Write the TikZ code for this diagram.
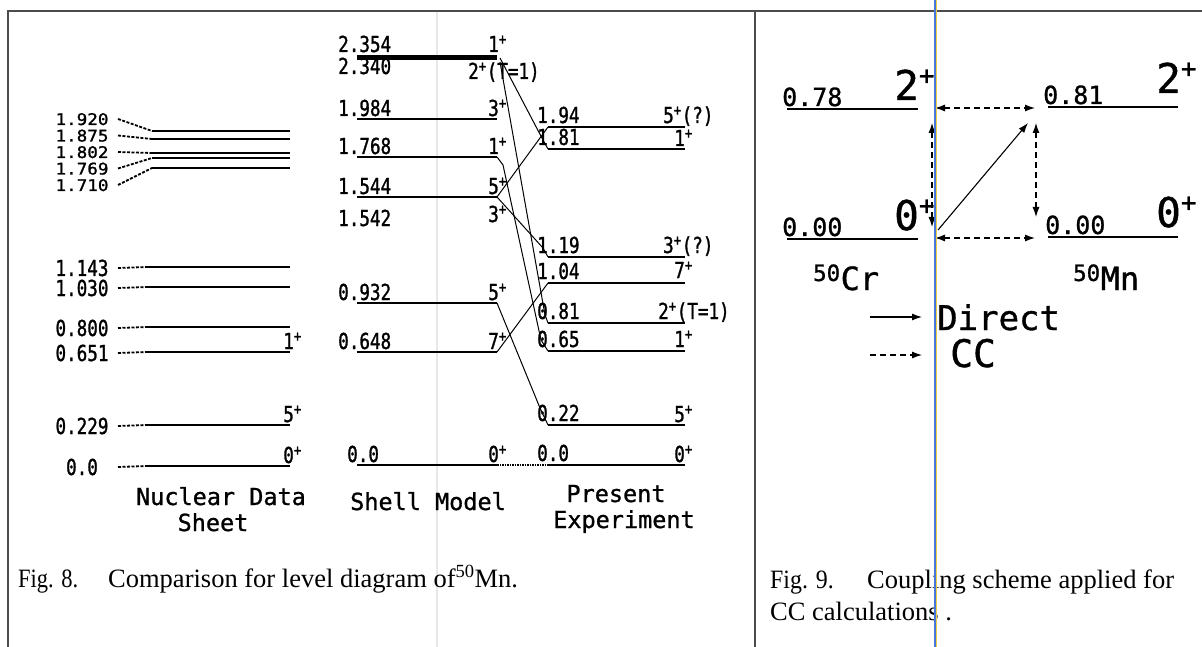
\documentclass[tikz,border=0pt]{standalone}
\usepackage{fontspec}
\setmainfont{Liberation Serif}
\newfontfamily\monof[FakeBold=1]{DejaVu Sans Mono}
\newfontfamily\monoc[FakeStretch=0.8,FakeBold=1.2]{DejaVu Sans Mono}
\newfontfamily\monow[FakeStretch=1.1,FakeBold=1.2]{DejaVu Sans Mono}
\usetikzlibrary{arrows.meta}
\newcommand\supr[1]{\textsuperscript{#1}}
\newcommand\bigplus{\raisebox{0.38em}{\fontsize{26}{26}\selectfont+}}
\definecolor{scanblue}{RGB}{70,120,215}
\definecolor{scanyellow}{RGB}{240,205,70}
\begin{document}
\begin{tikzpicture}[x=1pt,y=-1pt,
  framestyle/.style={black!70,line width=1.2pt},
  lvl/.style={line width=2.2pt},
  thicklvl/.style={line width=5pt},
  conn/.style={line width=1pt},
  ndsdash/.style={line width=1.8pt,dash pattern=on 3pt off 1.5pt},
  lbl/.style={font=\monoc\fontsize{22}{24}\selectfont,inner sep=0pt},
  lbls/.style={font=\monow\fontsize{16}{16}\selectfont,inner sep=0pt},
  hdr/.style={font=\monof\fontsize{23.5}{26}\selectfont,inner sep=0pt},
  rnum/.style={font=\monof\fontsize{25}{28}\selectfont,inner sep=0pt},
  rspin/.style={font=\monof\fontsize{41}{44}\selectfont,inner sep=0pt},
  nuc/.style={font=\monof\fontsize{32}{36}\selectfont,inner sep=0pt},
  captxt/.style={font=\fontsize{26.5}{30}\selectfont,inner sep=0pt},
  rlvl/.style={line width=1.8pt},
  arrtip/.style={-{Latex[length=10pt,width=7pt]}},
  darrtip/.style={{Latex[length=10pt,width=7pt]}-{Latex[length=10pt,width=7pt]}},
  ccdash/.style={line width=1.1pt,dash pattern=on 6pt off 4pt}]
\useasboundingbox (0,0) rectangle (1202,647);
\fill[white] (0,0) rectangle (1202,647);
% faint scan seam
\draw[black!9,line width=1.5pt] (437,11) -- (437,647);
% frames
\coordinate (fBL) at (8,647); \coordinate (fTL) at (8,11); \coordinate (fTR) at (1202,11);
\coordinate (dT) at (755,11); \coordinate (dB) at (755,647);
\draw[framestyle] (fBL) -- (fTL) -- (fTR);
\draw[framestyle] (dT) -- (dB);

% ---------------- Nuclear Data Sheet ----------------
\foreach \t/\ly/\y [count=\i] in {1.920/119/131, 1.875/135.5/139, 1.802/152/153, 1.769/168.5/158, 1.710/185/168}{
  \node[lbls,anchor=base] (nT\i) at (82,\ly+6) {\t};
  \coordinate (nTA\i) at (118,\ly);
  \coordinate (nTB\i) at (152,\y);
  \coordinate (nTC\i) at (290,\y);
  \draw[ndsdash] (nTA\i) -- (nTB\i);
  \draw[lvl] (nTB\i) -- (nTC\i);
}
\foreach \t/\ly/\y [count=\i] in {1.143/268/267, 1.030/288/287, 0.800/328/327, 0.651/353/352, 0.229/426/425, 0.0/467/466}{
  \node[lbl,anchor=base] (nL\i) at (82,\ly+8) {\t};
  \coordinate (nA\i) at (118,\ly);
  \coordinate (nB\i) at (147,\y);
  \coordinate (nC\i) at (290,\y);
  \draw[ndsdash] (nA\i) -- (nB\i);
  \draw[lvl] (nB\i) -- (nC\i);
}
\node[lbl,anchor=base east] (nS1) at (302,349) {1\supr{+}};
\node[lbl,anchor=base east] (nS2) at (302,422) {5\supr{+}};
\node[lbl,anchor=base east] (nS3) at (302,463) {0\supr{+}};

% ---------------- Shell Model ----------------
\coordinate (sTa) at (357,57.5); \coordinate (sTb) at (497,57.5);
\draw[thicklvl] (sTa) -- (sTb);
\node[lbl,anchor=base west] (sL1) at (338,52) {2.354};
\node[lbl,anchor=base west] (sL2) at (338,74) {2.340};
\node[lbl,anchor=base east] (sS1) at (507,52) {1\supr{+}};
\node[lbl,anchor=base west] (sS2) at (468,79) {2\supr{+}(T=1)};
\foreach \t/\y/\s [count=\i] in {1.984/119/3, 1.768/157/1, 1.544/197/5, 0.932/303/5, 0.648/352/7}{
  \coordinate (sa\i) at (357,\y);
  \coordinate (sb\i) at (497,\y);
  \draw[lvl] (sa\i) -- (sb\i);
  \node[lbl,anchor=base west] (sl\i) at (338,\y-3) {\t};
  \node[lbl,anchor=base east] (ss\i) at (507,\y-3) {\s\supr{+}};
}
\node[lbl,anchor=base west] (sL3) at (338,226) {1.542};
\node[lbl,anchor=base east] (sS3) at (507,222) {3\supr{+}};
\coordinate (s0a) at (357,465); \coordinate (s0b) at (497,465);
\draw[lvl] (s0a) -- (s0b);
\node[lbl,anchor=base west] (sL0) at (347,462) {0.0};
\node[lbl,anchor=base east] (sS0) at (507,462) {0\supr{+}};

% ---------------- Present Experiment ----------------
\foreach \t/\y [count=\i] in {1.94/127, 1.81/149, 1.19/257, 1.04/283, 0.81/323, 0.65/351, 0.22/425, 0.0/465}{
  \coordinate (pa\i) at (548,\y);
  \coordinate (pb\i) at (685,\y);
  \draw[lvl] (pa\i) -- (pb\i);
  \node[lbl,anchor=base west] (pl\i) at (537,\y-4) {\t};
}
\node[lbl,anchor=base west] (ps1) at (663,123) {5\supr{+}(?)};
\node[lbl,anchor=base east] (ps2) at (693,146) {1\supr{+}};
\node[lbl,anchor=base west] (ps3) at (663,253) {3\supr{+}(?)};
\node[lbl,anchor=base east] (ps4) at (693,278) {7\supr{+}};
\node[lbl,anchor=base west] (ps5) at (658,319) {2\supr{+}(T=1)};
\node[lbl,anchor=base east] (ps6) at (693,347) {1\supr{+}};
\node[lbl,anchor=base east] (ps7) at (693,422) {5\supr{+}};
\node[lbl,anchor=base east] (ps8) at (693,462) {0\supr{+}};

% connectors
\coordinate (k1) at (500,58); \coordinate (k1b) at (543,140);
\draw[conn] (k1) -- (k1b) -- (pa2);
\coordinate (k2) at (500,62); \coordinate (k2b) at (545,315);
\draw[conn] (k2) -- (k2b) -- (pa5);
\coordinate (k3) at (503,165); \coordinate (k3b) at (541,340);
\draw[conn] (sb2) -- (k3) -- (k3b) -- (pa6);
\draw[conn] (sb3) -- (pa1);
\coordinate (k5) at (543,248);
\draw[conn] (sb3) -- (k5) -- (pa3);
\coordinate (k6) at (540,408);
\draw[conn] (sb4) -- (k6) -- (pa7);
\draw[conn] (sb5) -- (pa4);
\draw[line width=1.2pt,dash pattern=on 1.5pt off 1pt] (s0b) -- (pa8);

% headers
\node[hdr,anchor=base] (h1) at (221,505) {Nuclear Data};
\node[hdr,anchor=base] (h2) at (213,531) {Sheet};
\node[hdr,anchor=base] (h3) at (428,510) {Shell Model};
\node[hdr,anchor=base] (h4) at (616,502) {Present};
\node[hdr,anchor=base] (h5) at (624,528) {Experiment};

% caption Fig 8
\node[captxt,anchor=base west] (c8a) at (18,587) {\scalebox{0.85}[1]{Fig. 8.}};
\node[captxt,anchor=base west] (c8b) at (108,587) {Comparison for level diagram of\textsuperscript{50}Mn.};

% ---------------- Fig. 9 ----------------
\coordinate (crTa) at (787,109); \coordinate (crTb) at (918,109);
\coordinate (crBa) at (787,239); \coordinate (crBb) at (918,239);
\coordinate (mnTa) at (1048,107); \coordinate (mnTb) at (1178,107);
\coordinate (mnBa) at (1048,237); \coordinate (mnBb) at (1178,237);
\draw[rlvl] (crTa) -- (crTb);
\draw[rlvl] (crBa) -- (crBb);
\draw[rlvl] (mnTa) -- (mnTb);
\draw[rlvl] (mnBa) -- (mnBb);
\node[rnum,anchor=base west] (r1) at (782,106) {0.78};
\node[rnum,anchor=base west] (r2) at (782,236) {0.00};
\node[rnum,anchor=base west] (r3) at (1043,104) {0.81};
\node[rnum,anchor=base west] (r4) at (1045,234) {0.00};
\node[rspin,anchor=base west] (r5) at (894,100) {2\bigplus};
\node[rspin,anchor=base west] (r6) at (894,230) {0\bigplus};
\node[rspin,anchor=base west] (r7) at (1156,93) {2\bigplus};
\node[rspin,anchor=base west] (r8) at (1156,227) {0\bigplus};
\node[nuc,anchor=base west] (r9) at (813,290) {\textsuperscript{50}Cr};
\node[nuc,anchor=base west] (r10) at (1073,290) {\textsuperscript{50}Mn};

\coordinate (aT1) at (935,108); \coordinate (aT2) at (1035,108);
\coordinate (aB1) at (935,238); \coordinate (aB2) at (1035,238);
\coordinate (aL1) at (932,123); \coordinate (aL2) at (932,227);
\coordinate (aR1) at (1036,123); \coordinate (aR2) at (1036,217);
\coordinate (aD1) at (938,230); \coordinate (aD2) at (1028,123);
\draw[ccdash,darrtip] (aT1) -- (aT2);
\draw[ccdash,darrtip] (aB1) -- (aB2);
\draw[ccdash,darrtip] (aL1) -- (aL2);
\draw[ccdash,darrtip] (aR1) -- (aR2);
\draw[line width=1.1pt,arrtip] (aD1) -- (aD2);

% legend
\coordinate (lg1) at (870,317); \coordinate (lg2) at (922,317);
\coordinate (lg3) at (870,355); \coordinate (lg4) at (922,355);
\draw[line width=1.1pt,arrtip] (lg1) -- (lg2);
\draw[ccdash,arrtip] (lg3) -- (lg4);
\node[font=\monof\fontsize{34}{38}\selectfont,inner sep=0pt,anchor=base west] (lgD) at (937,330) {Direct};
\node[font=\monof\fontsize{38}{42}\selectfont,inner sep=0pt,anchor=base west] (lgC) at (950,367) {CC};

% caption Fig 9
\node[captxt,anchor=base west] (c9a) at (770,588) {\scalebox{0.9}[1]{Fig. 9.}};
\node[captxt,anchor=base west] (c9b) at (867,588) {Coupling scheme applied for};
\node[captxt,anchor=base west] (c9c) at (770,620) {CC calculations .};

% scan line artifact
\draw[scanblue,line width=2pt] (934.5,0) -- (934.5,647);
\draw[scanyellow,line width=1pt] (936.5,0) -- (936.5,647);
\end{tikzpicture}
\end{document}
